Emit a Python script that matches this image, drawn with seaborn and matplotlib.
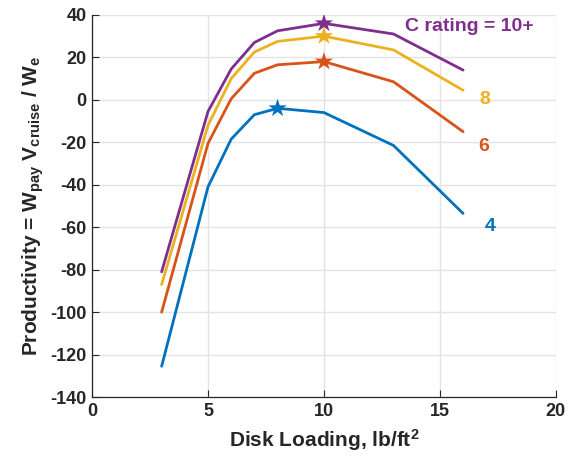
import numpy as np
import pandas as pd
import matplotlib
matplotlib.use("Agg")
import matplotlib.pyplot as plt
import seaborn as sns

# Disk loading (lb/ft^2) and productivity for each C rating
disk_loading = [3, 5, 6, 7, 8, 10, 13, 16]
prod_c4 = [-125.5, -41, -18.5, -7, -4, -6, -21.5, -53.5]
prod_c6 = [-100, -20.5, 0.5, 12.5, 16.5, 18, 8.5, -15]
prod_c8 = [-87, -12, 10, 22.5, 27.5, 30, 23.5, 4.5]
prod_c10 = [-81, -5.5, 14.5, 27, 32.5, 36, 31, 14]

ratings = ["4", "6", "8", "10+"]
series = [prod_c4, prod_c6, prod_c8, prod_c10]
colors = ["#0072BD", "#D95319", "#EDB120", "#7E2F8E"]
label_text = ["4", "6", "8", "C rating = 10+"]
label_pos = [(17.16, -59.8), (16.87, -22), (16.94, 0), (16.25, 34.5)]

df = pd.DataFrame({
    "Disk Loading": disk_loading * len(ratings),
    "Productivity": sum(series, []),
    "C rating": sum([[r] * len(disk_loading) for r in ratings], []),
})

sns.set_theme(style="whitegrid")
plt.rcParams["font.family"] = ["Liberation Sans", "DejaVu Sans"]
plt.rcParams["font.weight"] = "bold"
plt.rcParams["axes.unicode_minus"] = False
plt.rcParams["mathtext.fontset"] = "custom"
plt.rcParams["mathtext.rm"] = "Liberation Sans:bold"
plt.rcParams["mathtext.it"] = "Liberation Sans:bold"
plt.rcParams["mathtext.bf"] = "Liberation Sans:bold"

fig = plt.figure(figsize=(5.79, 4.65), dpi=100)
ax = fig.add_axes([0.159, 0.146, 0.801, 0.822])

palette = dict(zip(ratings, colors))
sns.lineplot(data=df, x="Disk Loading", y="Productivity", hue="C rating",
             hue_order=ratings, palette=palette, linewidth=2.0, ax=ax,
             legend=False)

# Star at the peak of each curve
peaks = df.loc[df.groupby("C rating")["Productivity"].idxmax()]
sns.scatterplot(data=peaks, x="Disk Loading", y="Productivity", hue="C rating",
                hue_order=ratings, palette=palette, marker="*", s=190,
                linewidth=0, legend=False, ax=ax, zorder=5)

for txt, (lx, ly), c in zip(label_text, label_pos, colors):
    ax.text(lx, ly, txt, color=c, fontsize=14, fontweight="bold",
            ha="center", va="center")

ax.set_xlim(0, 20)
ax.set_ylim(-140, 40)
ax.set_xticks([0, 5, 10, 15, 20])
ax.set_yticks(np.arange(-140, 41, 20))

ax.grid(True, color="#e3e3e3", linewidth=1.0)
ax.set_facecolor("white")
for side in ["top", "right"]:
    ax.spines[side].set_visible(False)
for side in ["left", "bottom"]:
    ax.spines[side].set_visible(True)
    ax.spines[side].set_color("#262626")
    ax.spines[side].set_linewidth(0.9)

ax.tick_params(axis="both", direction="in", length=5, width=0.8,
               colors="#262626", labelsize=13, pad=4,
               left=True, bottom=True)
for lbl in ax.get_xticklabels() + ax.get_yticklabels():
    lbl.set_fontweight("bold")

ax.set_xlabel(r"Disk Loading, lb/ft$^{2}$", fontsize=15, fontweight="bold",
              color="#262626", labelpad=5)
ax.set_ylabel(r"Productivity = W$_{\mathrm{pay}}$ V$_{\mathrm{cruise}}$ / W$_{\mathrm{e}}$",
              fontsize=15, fontweight="bold", color="#262626", labelpad=3)

fig.savefig("out.png", dpi=100, facecolor="white")
